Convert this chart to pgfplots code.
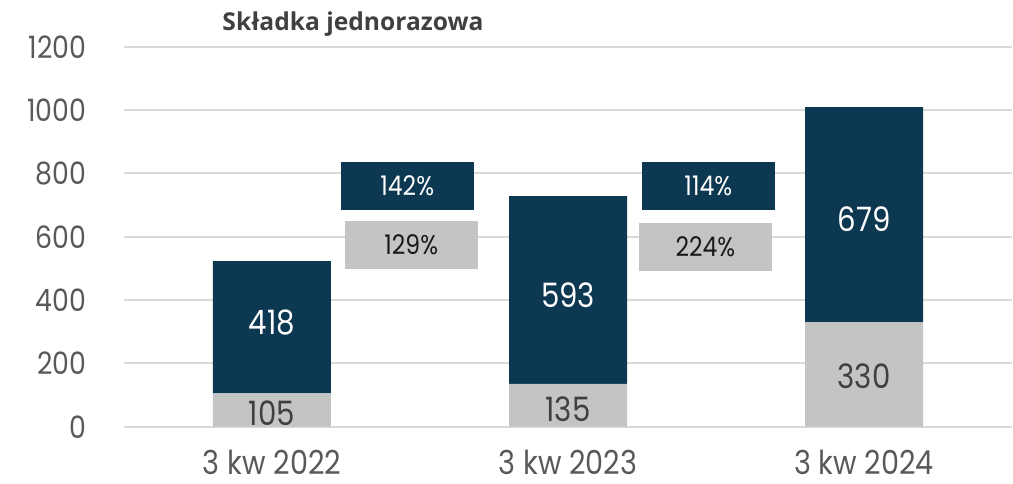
\documentclass[border=0pt]{standalone}
\usepackage{fontspec}
\setmainfont{Poppins}[FakeStretch=0.87]
\newfontfamily\titlefont{Open Sans}
\usepackage{pgfplots}
\pgfplotsset{compat=1.18}
\definecolor{navy}{HTML}{0D3852}
\definecolor{lgray}{HTML}{C4C4C4}
\definecolor{gridc}{HTML}{D9D9D9}
\definecolor{tickc}{HTML}{595959}
\definecolor{dtext}{HTML}{404040}
\begin{document}
\begin{tikzpicture}
\useasboundingbox (-62pt,-28.15pt) rectangle (444.5pt,213.35pt);
\begin{axis}[
  at={(0,0)}, anchor=south west,
  scale only axis, width=444pt, height=190pt,
  ybar stacked, bar width=59pt,
  xmin=-0.5, xmax=2.5, ymin=0, ymax=1200,
  ytick={0,200,...,1200},
  xtick={0,1,2},
  xticklabels={3 kw 2022,3 kw 2023,3 kw 2024},
  axis line style={draw=none},
  major tick length=0pt,
  ymajorgrids, grid style={draw=gridc, line width=0.9pt},
  /pgf/number format/assume math mode=true,
  /pgf/number format/1000 sep={},
  yticklabel style={font=\fontsize{15.4}{17}\selectfont, text=tickc, anchor=east, xshift=-15.4pt},
  xticklabel style={font=\fontsize{16.5}{18}\selectfont, text=tickc, anchor=base, inner ysep=0.5pt, yshift=-24pt},
]
\addplot[fill=lgray, draw=none] coordinates {(0,105) (1,135) (2,330)};
\addplot[fill=navy, draw=none] coordinates {(0,418) (1,593) (2,679)};
\fill[navy] (axis cs:0.232,684) rectangle (axis cs:0.682,836);
\fill[lgray] (axis cs:0.246,499) rectangle (axis cs:0.695,649);
\fill[navy] (axis cs:1.249,684) rectangle (axis cs:1.699,836);
\fill[lgray] (axis cs:1.239,493) rectangle (axis cs:1.689,643);
\coordinate (p1) at (axis cs:0.457,760);
\coordinate (p2) at (axis cs:0.4705,574);
\coordinate (p3) at (axis cs:1.474,760);
\coordinate (p4) at (axis cs:1.464,568);
\coordinate (b1) at (axis cs:0,330);
\coordinate (b2) at (axis cs:1,416);
\coordinate (b3) at (axis cs:2,655);
\coordinate (g1) at (axis cs:0,44);
\coordinate (g2) at (axis cs:1,55);
\coordinate (g3) at (axis cs:2,158);
\end{axis}
\node[font=\fontsize{13.5}{15}\selectfont, text=white] at (p1) {142\%};
\node[font=\fontsize{13.5}{15}\selectfont, text=black!90] at (p2) {129\%};
\node[font=\fontsize{13.5}{15}\selectfont, text=white] at (p3) {114\%};
\node[font=\fontsize{13.5}{15}\selectfont, text=black!90] at (p4) {224\%};
\node[font=\fontsize{16.8}{18}\selectfont, text=white] at (b1) {418};
\node[font=\fontsize{16.8}{18}\selectfont, text=white] at (b2) {593};
\node[font=\fontsize{16.8}{18}\selectfont, text=white] at (b3) {679};
\node[font=\fontsize{16.8}{18}\selectfont, text=dtext] at (g1) {105};
\node[font=\fontsize{16.8}{18}\selectfont, text=dtext] at (g2) {135};
\node[font=\fontsize{16.8}{18}\selectfont, text=dtext] at (g3) {330};
\node[anchor=base, font=\titlefont\bfseries\fontsize{12.3}{14}\selectfont, text=dtext] at (114.5pt,197.85pt) {Składka jednorazowa};
\end{tikzpicture}
\end{document}
